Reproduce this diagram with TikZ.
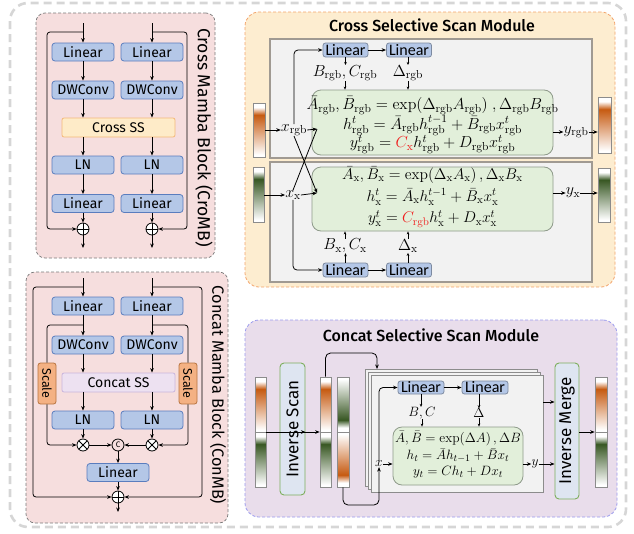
\RequirePackage{fix-cm}
\documentclass[tikz,border=0pt]{standalone}
\usepackage[no-math]{fontspec}
\setmainfont{Fira Sans}
\newfontfamily\calib{Carlito}
\newfontfamily\ttlfont{Fira Sans Medium}
\usetikzlibrary{arrows.meta,calc}
\DeclareMathSizes{16}{16}{11.5}{8.5}
\DeclareMathSizes{15.5}{15.5}{11}{8}
\DeclareMathSizes{13.5}{13.5}{9.8}{7}
\definecolor{bboxf}{HTML}{B4C7E7}
\definecolor{bboxd}{HTML}{5A7DBE}
\definecolor{lboxd}{HTML}{7D8AA0}
\definecolor{pinkf}{HTML}{F6DEDE}
\definecolor{pinkd}{HTML}{7A7A7A}
\definecolor{crossf}{HTML}{FEEBC8}
\definecolor{crossd}{HTML}{F4B978}
\definecolor{concf}{HTML}{EDE1F1}
\definecolor{concd}{HTML}{C9B5DD}
\definecolor{scalef}{HTML}{F4B183}
\definecolor{scaled}{HTML}{B8733F}
\definecolor{cssf}{HTML}{FDEDD0}
\definecolor{cssd}{HTML}{F3A46C}
\definecolor{panf}{HTML}{F2F2F2}
\definecolor{pand}{HTML}{8C8C8C}
\definecolor{pand2}{HTML}{A09A92}
\definecolor{grnf}{HTML}{E2EFDA}
\definecolor{grnd}{HTML}{8E9A8A}
\definecolor{purf}{HTML}{E9DDEB}
\definecolor{purd}{HTML}{9A9AEE}
\definecolor{invf}{HTML}{DEE5F1}
\definecolor{invd}{HTML}{7DAE5C}
\definecolor{outd}{HTML}{D6D6D6}
\definecolor{barO}{HTML}{C65A11}
\definecolor{barG}{HTML}{385723}
\definecolor{eqred}{HTML}{F01E1E}
\pgfdeclareverticalshading{oN}{100bp}{color(0bp)=(white); color(27bp)=(white); color(64bp)=(barO); color(71bp)=(white); color(100bp)=(white)}
\pgfdeclareverticalshading{oF}{100bp}{color(0bp)=(white); color(29bp)=(white); color(36bp)=(barO); color(73bp)=(white); color(100bp)=(white)}
\pgfdeclareverticalshading{gN}{100bp}{color(0bp)=(white); color(27bp)=(white); color(64bp)=(barG); color(71bp)=(white); color(100bp)=(white)}
\pgfdeclareverticalshading{gF}{100bp}{color(0bp)=(white); color(29bp)=(white); color(36bp)=(barG); color(73bp)=(white); color(100bp)=(white)}
\newcommand\fsL{\fontsize{14}{16}\selectfont}
\newcommand\fsEq{\fontsize{16}{18}\selectfont}
\newcommand\fsEqb{\fontsize{15.5}{17}\selectfont}
\newcommand\fsEqc{\fontsize{13.5}{15}\selectfont}
\newcommand\rr[1]{_{\mathrm{#1}}}
\begin{document}
\begin{tikzpicture}[x=1pt,y=-1pt,
  arr/.style={-{Stealth[length=4.5pt,width=3.6pt]},line width=0.8pt},
  sarr/.style={-{Stealth[length=3pt,width=2.6pt]},line width=0.5pt},
  bbox/.style={draw=bboxd,fill=bboxf,rounded corners=3pt,line width=0.8pt,inner sep=0pt,font=\fsL,minimum width=62pt,minimum height=18pt},
  lbox/.style={draw=lboxd,fill=bboxf,rounded corners=2.5pt,line width=0.8pt,inner sep=0pt,font=\calib\fontsize{16}{18}\selectfont,minimum width=45pt,minimum height=14pt},
  opl/.style={circle,draw,line width=0.8pt,minimum size=12pt,inner sep=0pt,fill=white,path picture={\draw[line width=0.8pt] (path picture bounding box.north)--(path picture bounding box.south) (path picture bounding box.east)--(path picture bounding box.west);}},
  otm/.style={circle,draw,line width=0.8pt,minimum size=12pt,inner sep=0pt,fill=white,path picture={\draw[line width=0.8pt] (path picture bounding box.north west)--(path picture bounding box.south east) (path picture bounding box.north east)--(path picture bounding box.south west);}},
  pinkp/.style={draw=pinkd,fill=pinkf,dash pattern=on 3pt off 2pt,line width=0.7pt,rounded corners=9pt,inner sep=0pt},
  vlab/.style={rotate=-90,inner sep=0pt},
  barb/.style={draw=pand,line width=0.6pt,inner sep=0pt,rectangle},
  pan/.style={draw=pand2,fill=panf,line width=1.5pt,inner sep=0pt},
  gbox/.style={draw=grnd,fill=grnf,line width=0.8pt,rounded corners=9pt,inner sep=0pt},
  eq/.style={font=\fsEq,inner sep=0pt},
  eqb/.style={font=\fsEqb,inner sep=0pt},
  eqc/.style={font=\fsEqc,inner sep=0pt},
  ttl/.style={font=\ttlfont\fontsize{16}{18}\selectfont,inner sep=0pt},
  invb/.style={draw=invd,fill=invf,line width=0.9pt,rounded corners=4pt,inner sep=0pt,font=\fontsize{17}{19}\selectfont},
]
\useasboundingbox (0,0) rectangle (634,533);
% outer frame
\draw[outd,line width=2.6pt,dash pattern=on 8pt off 5pt,rounded corners=18pt] (10,3) rectangle (626,527);

%================ Cross Mamba Block =================
\node[pinkp,minimum width=179pt,minimum height=245pt] (cromb) at (125.5,135.5) {};
\node[vlab,font=\fontsize{17.5}{19}\selectfont] (crombl) at (204,137.5) {Cross Mamba Block (CroMB)};
\coordinate (ci1) at (83,23); \coordinate (ci2) at (152,23);
\coordinate (cj1) at (83,32); \coordinate (cj2) at (152,32);
\node[bbox] (cl1) at (83,52) {Linear};
\node[bbox] (cl2) at (152,52) {Linear};
\node[bbox] (cd1) at (83,90) {DWConv};
\node[bbox] (cd2) at (152,90) {DWConv};
\node[draw=crossd,fill=crossf,line width=0.8pt,rounded corners=2pt,minimum width=113pt,minimum height=19pt,inner sep=0pt,font=\fsL] (css) at (118.5,127.5) {Cross SS};
\node[bbox] (cn1) at (83,165) {LN};
\node[bbox] (cn2) at (152,165) {LN};
\node[bbox] (co1) at (83,203.5) {Linear};
\node[bbox] (co2) at (152,203.5) {Linear};
\node[opl] (cp1) at (83,229) {};
\node[opl] (cp2) at (152,229) {};
\coordinate (cq1) at (83,248); \coordinate (cq2) at (152,248);
\foreach \s in {1,2}{
  \draw[arr] (ci\s) -- (cl\s);
  \draw[arr] (cl\s) -- (cd\s);
  \draw[arr] (cd\s) -- (cd\s |- css.north);
  \draw[arr] (cd\s |- css.south) -- (cn\s);
  \draw[arr] (cn\s) -- (co\s);
  \draw[arr] (co\s) -- (cp\s);
  \draw[arr] (cp\s) -- (cq\s);
}
\coordinate (csk1) at (47,229); \coordinate (csk2) at (187,229);
\draw[arr,rounded corners=3pt] (cj1) -| (csk1) -- (cp1);
\draw[arr,rounded corners=3pt] (cj2) -| (csk2) -- (cp2);

%================ Concat Mamba Block =================
\node[pinkp,minimum width=202pt,minimum height=251pt] (conmb) at (127,397.5) {};
\node[vlab,font=\fontsize{16.3}{18}\selectfont] (conmbl) at (218,395) {Concat Mamba Block (ConMB)};
\coordinate (ki1) at (83,278); \coordinate (ki2) at (152,278);
\coordinate (kj1) at (83,287); \coordinate (kj2) at (152,287);
\coordinate (kk1) at (83,325); \coordinate (kk2) at (152,325);
\node[bbox] (kl1) at (83,306) {Linear};
\node[bbox] (kl2) at (152,306) {Linear};
\node[bbox] (kd1) at (83,345) {DWConv};
\node[bbox] (kd2) at (152,345) {DWConv};
\node[draw=concd,fill=concf,line width=0.8pt,rounded corners=2pt,minimum width=113pt,minimum height=19pt,inner sep=0pt,font=\fsL] (kss) at (118.5,382.5) {Concat SS};
\node[bbox] (kn1) at (83,420) {LN};
\node[bbox] (kn2) at (152,420) {LN};
\node[draw=scaled,fill=scalef,line width=0.8pt,rounded corners=2.5pt,minimum width=41pt,minimum height=18pt,inner sep=0pt,rotate=-90,font=\fontsize{12.5}{14}\selectfont] (ks1) at (47,383.5) {Scale};
\node[draw=scaled,fill=scalef,line width=0.8pt,rounded corners=2.5pt,minimum width=41pt,minimum height=18pt,inner sep=0pt,rotate=-90,font=\fontsize{12.5}{14}\selectfont] (ks2) at (188,383.5) {Scale};
\node[otm] (kx1) at (83,445) {};
\node[otm] (kx2) at (152,445) {};
\node[circle,draw,line width=0.8pt,minimum size=12pt,inner sep=0pt,font=\fontsize{8}{8}\selectfont] (kc) at (118,445) {C};
\node[bbox] (kb) at (118,472.5) {Linear};
\node[opl] (kp) at (118,497) {};
\coordinate (kq) at (118,512);
\foreach \s in {1,2}{
  \draw[arr] (ki\s) -- (kl\s);
  \draw[arr] (kl\s) -- (kd\s);
  \draw[arr] (kd\s) -- (kd\s |- kss.north);
  \draw[arr] (kd\s |- kss.south) -- (kn\s);
  \draw[arr] (kn\s) -- (kx\s);
  \draw[rounded corners=3pt,line width=0.8pt] (kk\s) -| (ks\s.west);
  \draw[arr,rounded corners=3pt] (ks\s.east) |- (kx\s);
  \draw[arr] (kx\s) -- (kc);
}
\draw[arr] (kc) -- (kb);
\draw[arr] (kb) -- (kp);
\draw[arr] (kp) -- (kq);
\coordinate (ksk1) at (33,497); \coordinate (ksk2) at (202,497);
\draw[arr,rounded corners=3pt] (kj1) -| (ksk1) -- (kp);
\draw[arr,rounded corners=3pt] (kj2) -| (ksk2) -- (kp);

%================ Cross Selective Scan Module =================
\node[draw=cssd,fill=cssf,dash pattern=on 3pt off 2pt,line width=0.8pt,rounded corners=14pt,minimum width=370pt,minimum height=275pt,inner sep=0pt] (cssm) at (430,149.5) {};
\node[ttl] (csst) at (432,25) {Cross Selective Scan Module};
\node[pan,minimum width=322pt,minimum height=119pt] (up) at (431,98.5) {};
\node[pan,minimum width=322pt,minimum height=120pt] (lp) at (431,222) {};
% upper
\node[lbox] (ul1) at (345.5,50) {Linear};
\node[lbox] (ul2) at (409,50) {Linear};
\node[eq] (ubc) at (345,73) {$B\rr{rgb},C\rr{rgb}$};
\node[eq] (ud) at (408,73) {$\Delta\rr{rgb}$};
\node[gbox,minimum width=241pt,minimum height=65pt] (ug) at (432.5,122.5) {};
\node[eq] (ue1) at (432.5,105.5) {$\bar{A}\rr{rgb},\bar{B}\rr{rgb}=\exp\Bigl(\Delta\rr{rgb}A\rr{rgb}\Bigr)\;,\Delta\rr{rgb}B\rr{rgb}$};
\node[eq] (ue2) at (432.5,125.5) {$h^{t}\rr{rgb}=\bar{A}\rr{rgb}h^{t-1}\rr{rgb}+\bar{B}\rr{rgb}x^{t}\rr{rgb}$};
\node[eq] (ue3) at (432.5,144.5) {$y^{t}\rr{rgb}={\color{eqred}C\rr{x}}h^{t}\rr{rgb}+D\rr{rgb}x^{t}\rr{rgb}$};
\shade[shading=oN] (253,103) rectangle (265,157);
\node[barb,minimum width=12pt,minimum height=54pt] (ulb) at (259,130) {};
\node[eq] (uxr) at (294,130) {$x\rr{rgb}$};
\coordinate (uin) at (317,129);
\node[eq] (uyr) at (576,132) {$y\rr{rgb}$};
\shade[shading=oN] (598,97) rectangle (611,153);
\node[barb,minimum width=13pt,minimum height=56pt] (urb) at (604.5,125) {};
% lower
\node[lbox] (ll1) at (345.5,270) {Linear};
\node[lbox] (ll2) at (409,270) {Linear};
\node[eq] (lbc) at (345,246) {$B\rr{x},C\rr{x}$};
\node[eq] (ld) at (408,246) {$\Delta\rr{x}$};
\node[gbox,minimum width=241pt,minimum height=64pt] (lg) at (432.5,199) {};
\node[eqb] (le1) at (432.5,175) {$\bar{A}\rr{x},\bar{B}\rr{x}=\exp(\Delta\rr{x}A\rr{x})\,,\Delta\rr{x}B\rr{x}$};
\node[eqb] (le2) at (432.5,197) {$h^{t}\rr{x}=\bar{A}\rr{x}h^{t-1}\rr{x}+\bar{B}\rr{x}x^{t}\rr{x}$};
\node[eqb] (le3) at (432.5,219) {$y^{t}\rr{x}={\color{eqred}C\rr{rgb}}h^{t}\rr{x}+D\rr{x}x^{t}\rr{x}$};
\shade[shading=gN] (253,167) rectangle (264,222);
\node[barb,minimum width=11pt,minimum height=55pt] (llb) at (258.5,194.5) {};
\node[eq] (lxx) at (293,195) {$x\rr{x}$};
\coordinate (lin) at (317,193);
\node[eq] (lyx) at (573,193) {$y\rr{x}$};
\shade[shading=gN] (598,168) rectangle (610,222);
\node[barb,minimum width=12pt,minimum height=54pt] (lrb) at (604,195) {};
% connectors upper
\draw[arr] (ulb.east |- uxr) -- (uxr);
\draw[arr,rounded corners=4pt] (uxr.north) |- (ul1.west);
\draw[arr] (ul1) -- (ul2);
\draw[sarr] (ul1.south) -- (ul1.south |- ubc.north);
\draw[sarr] (ul2.south -| ud) -- (ud.north);
\draw[sarr] (ubc.south) -- (ubc.south |- ug.north);
\draw[sarr] (ud.south) -- (ud.south |- ug.north);
\draw[arr] (uxr.east) -- (uin);
\draw[line width=0.8pt] (lxx.north) -- (uin);
\draw[arr] (ug.east |- uyr) -- (uyr);
\draw[arr] (uyr) -- (urb.west |- uyr);
% connectors lower
\draw[arr] (llb.east |- lxx) -- (lxx);
\draw[arr,rounded corners=4pt] (lxx.south) |- (ll1.west);
\draw[arr] (ll1) -- (ll2);
\draw[sarr] (ll1.north) -- (ll1.north |- lbc.south);
\draw[sarr] (ll2.north -| ld) -- (ld.south);
\draw[sarr] (lbc.north) -- (lbc.north |- lg.south);
\draw[sarr] (ld.north) -- (ld.north |- lg.south);
\draw[arr] (lxx.east) -- (lin);
\draw[arr] (uxr.south) -- (lin);
\draw[arr] (lg.east |- lyx) -- (lyx);
\draw[arr] (lyx) -- (lrb.west |- lyx);

%================ Concat Selective Scan Module =================
\node[draw=purd,fill=purf,dash pattern=on 3pt off 2pt,line width=0.8pt,rounded corners=14pt,minimum width=372pt,minimum height=197pt,inner sep=0pt] (cm) at (431,418.5) {};
\node[ttl] (cmt) at (431,335) {Concat Selective Scan Module};
% bars
\shade[shading=oN] (255,377) rectangle (266,432);
\shade[shading=gN] (255,432) rectangle (266,487);
\node[barb,minimum width=11pt,minimum height=110pt] (b1) at (260.5,432) {};
\draw[pand,line width=0.6pt] (b1.west) -- (b1.east);
\node[invb,minimum width=132pt,minimum height=25pt,rotate=90] (isc) at (292.5,429) {Inverse Scan};
\shade[shading=oN] (320,377) rectangle (331,432);
\shade[shading=gN] (320,432) rectangle (331,487);
\node[barb,minimum width=11pt,minimum height=110pt] (b2) at (325.5,432) {};
\draw[pand,line width=0.6pt] (b2.west) -- (b2.east);
\shade[shading=gF] (337,377) rectangle (349,432);
\shade[shading=oF] (337,432) rectangle (349,487);
\node[barb,minimum width=12pt,minimum height=110pt] (b3) at (343,432) {};
\draw[pand,line width=0.6pt] (b3.west) -- (b3.east);
% stack
\node[draw=pand,fill=panf,line width=0.9pt,inner sep=0pt,minimum width=172pt,minimum height=117pt] (sp3) at (451,427.5) {};
\node[draw=pand,fill=panf,line width=0.9pt,inner sep=0pt,minimum width=172pt,minimum height=117pt] (sp2) at (454,430.5) {};
\node[draw=pand,fill=panf,line width=0.9pt,inner sep=0pt,minimum width=172pt,minimum height=117pt] (sp1) at (457,433.5) {};
\node[lbox,minimum width=46pt,minimum height=13pt] (f1) at (421,387.5) {Linear};
\node[lbox,minimum width=46pt,minimum height=13pt] (f2) at (485,387.5) {Linear};
\node[eqc] (fbc) at (422,413) {$B,C$};
\node[eqc] (fd) at (479,413) {$\Delta$};
\node[gbox,minimum width=130pt,minimum height=58pt] (fg) at (458,456) {};
\node[eqc] (fe1) at (458,438.5) {$\bar{A},\bar{B}=\exp(\Delta A)\,,\Delta B$};
\node[eqc] (fe2) at (458,455.5) {$h_t=\bar{A}h_{t-1}+\bar{B}x_t$};
\node[eqc] (fe3) at (458,472.5) {$y_t=Ch_t+Dx_t$};
\node[eqc] (fx) at (379,464) {$x$};
\node[eqc] (fy) at (535,464) {$y$};
\node[invb,minimum width=136pt,minimum height=24pt,rotate=90] (imr) at (567,431) {Inverse Merge};
\shade[shading=oN] (595,377) rectangle (607,432);
\shade[shading=gN] (595,432) rectangle (607,487);
\node[barb,minimum width=12pt,minimum height=110pt] (b4) at (601,432) {};
\draw[pand,line width=0.6pt] (b4.west) -- (b4.east);
% connectors
\draw[arr] (b1.east) -- (b1.east -| isc.south);
\draw[arr] (b1.east -| isc.north) -- (b2.west);
\coordinate (c1) at (377,353);
\coordinate (stin) at (377,369);
\draw[arr,rounded corners=5pt] (b2.north) |- (c1) -- (stin);
\coordinate (c2) at (379,505);
\draw[arr,rounded corners=5pt] (b3.south) |- (c2) -- (fx.south);
\draw[arr,rounded corners=4pt] (fx.north) |- (f1.west);
\draw[arr] (f1) -- (f2);
\draw[sarr] (f1.south) -- (f1.south |- fbc.north);
\draw[sarr] (f2.south -| fd) -- (fd.north);
\draw[sarr] (fbc.south) -- (fbc.south |- fg.north);
\draw[sarr] (fd.south) -- (fd.south |- fg.north);
\draw[arr] (fx.east) -- (fx.east -| fg.west);
\draw[arr] (fg.east |- fy) -- (fy.west);
\draw[arr] (fy.east) -- (fy.east -| imr.north);
\coordinate (sout) at (543,402);
\draw[arr] (sout) -- (sout -| imr.north);
\draw[arr] (b4.west -| imr.south) -- (b4.west);
\end{tikzpicture}
\end{document}
